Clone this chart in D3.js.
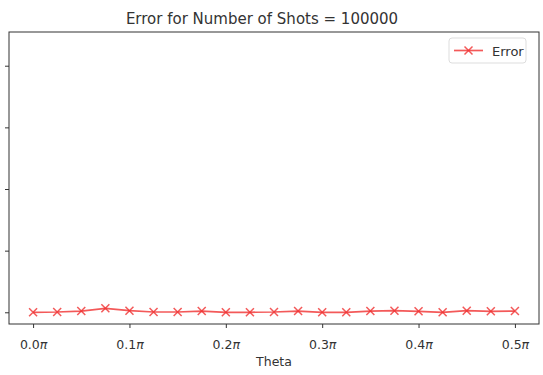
<!DOCTYPE html>
<html>
<head>
<meta charset="utf-8">
<title>Error for Number of Shots</title>
<script src="https://d3js.org/d3.v7.min.js"></script>
<style>
  body { margin: 0; background: #fff; }
  text { font-family: "DejaVu Sans", sans-serif; fill: #333; }
</style>
</head>
<body>
<div id="chart"></div>
<script>
const width = 543;
const height = 375;

// theta in units of pi
var theta = [0, 0.025, 0.05, 0.075, 0.1, 0.125, 0.15, 0.175, 0.2, 0.225, 0.25,
             0.275, 0.3, 0.325, 0.35, 0.375, 0.4, 0.425, 0.45, 0.475, 0.5];
var errors = [0.0, 0.005, 0.02, 0.065, 0.026, 0.005, 0.005, 0.02, 0.0, 0.0, 0.005,
              0.02, 0.0, 0.0, 0.02, 0.026, 0.016, 0.0, 0.026, 0.016, 0.02];
var xTicks = [0, 0.1, 0.2, 0.3, 0.4, 0.5];
var yTicks = [0, 1, 2, 3, 4];
var seriesName = "Error";

var margin = {left: 9, right: 4, top: 32, bottom: 51};

var svg = d3.select("#chart").append("svg").attr("width", width).attr("height", height);

var x = d3.scaleLinear().domain([-0.025, 0.525]).range([margin.left, width - margin.right]);
var y = d3.scaleLinear().domain([-0.19, 4.547]).range([height - margin.bottom, margin.top]);

var col = "#f03030";

// x axis
var xAxis = svg.append("g")
  .attr("transform", "translate(0," + (height - margin.bottom) + ")")
  .call(d3.axisBottom(x).tickValues(xTicks).tickSize(4).tickPadding(9).tickFormat(""));
xAxis.select(".domain").remove();
xAxis.selectAll("line").attr("stroke", "#333");
xAxis.selectAll(".tick").append("text")
  .attr("y", 25)
  .attr("text-anchor", "middle")
  .style("font-size", "12.5px")
  .style("fill", "#333")
  .each(function(d) {
    var t = d3.select(this);
    t.append("tspan").text(d3.format(".1f")(d));
    t.append("tspan").style("font-style", "italic").text("\u03c0");
  });

// y axis, labels fall outside the picture
var yAxis = svg.append("g")
  .attr("transform", "translate(" + margin.left + ",0)")
  .call(d3.axisLeft(y).tickValues(yTicks).tickSize(4).tickFormat(""));
yAxis.select(".domain").remove();
yAxis.selectAll("line").attr("stroke", "#333");

// frame
svg.append("rect")
  .attr("x", margin.left).attr("y", margin.top)
  .attr("width", width - margin.left - margin.right)
  .attr("height", height - margin.top - margin.bottom)
  .attr("fill", "none").attr("stroke", "#333").attr("stroke-width", 1);

var line = d3.line().x((d, i) => x(theta[i])).y(d => y(d));

svg.append("path")
  .datum(errors)
  .attr("d", line)
  .attr("fill", "none")
  .attr("stroke", col)
  .attr("stroke-opacity", 0.8)
  .attr("stroke-width", 1.7);

var s = 4;
svg.append("g").selectAll("path")
  .data(errors)
  .enter().append("path")
  .attr("d", (d, i) => {
    var cx = x(theta[i]), cy = y(d);
    return "M" + (cx - s) + "," + (cy - s) + "L" + (cx + s) + "," + (cy + s) +
           "M" + (cx - s) + "," + (cy + s) + "L" + (cx + s) + "," + (cy - s);
  })
  .attr("stroke", col)
  .attr("stroke-opacity", 0.8)
  .attr("stroke-width", 1.5);

// title
svg.append("text")
  .attr("x", 262).attr("y", 24)
  .attr("text-anchor", "middle")
  .style("font-size", "15px")
  .text("Error for Number of Shots = 100000");

// x label
svg.append("text")
  .attr("x", (margin.left + width - margin.right) / 2).attr("y", 366)
  .attr("text-anchor", "middle")
  .style("font-size", "12.5px")
  .text("Theta");

// legend
var lg = svg.append("g").attr("transform", "translate(449,38)");
lg.append("rect")
  .attr("width", 77).attr("height", 25).attr("rx", 3)
  .attr("fill", "#fff").attr("stroke", "#ddd");
lg.append("line")
  .attr("x1", 5).attr("x2", 34).attr("y1", 12.5).attr("y2", 12.5)
  .attr("stroke", col).attr("stroke-opacity", 0.8).attr("stroke-width", 1.7);
lg.append("path")
  .attr("d", "M15.5,8.5L23.5,16.5M15.5,16.5L23.5,8.5")
  .attr("stroke", col).attr("stroke-opacity", 0.8).attr("stroke-width", 1.5);
lg.append("text")
  .attr("x", 43).attr("y", 17.5)
  .style("font-size", "13px")
  .text(seriesName);
</script>
</body>
</html>
